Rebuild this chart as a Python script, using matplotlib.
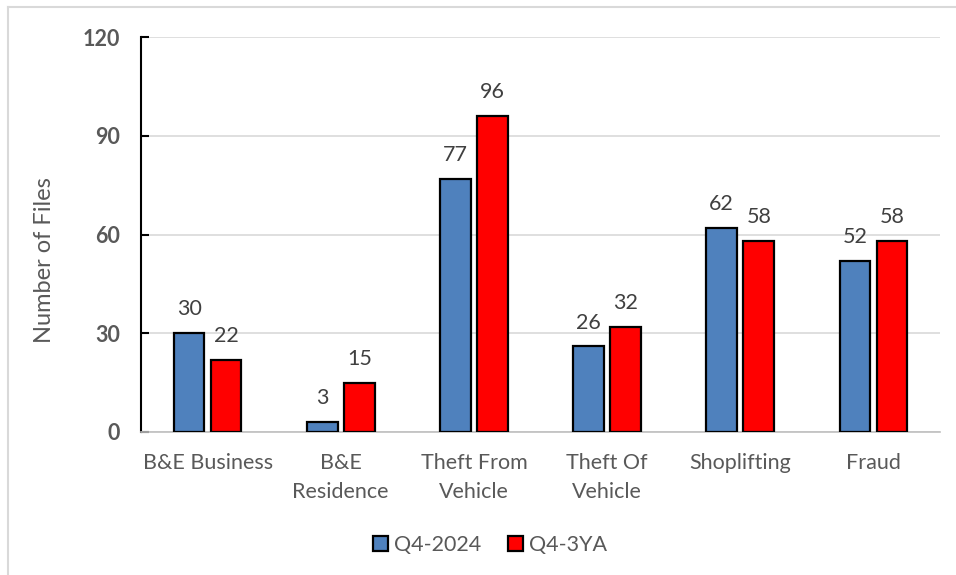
import numpy as np
import matplotlib.pyplot as plt
from matplotlib.lines import Line2D

categories = ["B&E Business", "B&E\nResidence", "Theft From\nVehicle",
              "Theft Of\nVehicle", "Shoplifting", "Fraud"]
q4_2024 = [30, 3, 77, 26, 62, 52]
q4_3ya = [22, 15, 96, 32, 58, 58]
yticks = [0, 30, 60, 90, 120]

plt.rcParams['font.family'] = ['Lato', 'DejaVu Sans']

blue = "#4F81BD"
red = "#FF0000"
text_col = "#595959"

fig = plt.figure(figsize=(9.56, 5.75), dpi=100)
ax = fig.add_axes([141 / 956, 1 - 432 / 575, (940 - 141) / 956, (432 - 37) / 575])

x = np.arange(len(categories))
w = 0.23
off = 0.139
b1 = ax.bar(x - off, q4_2024, w, color=blue, edgecolor="black", linewidth=1.6, label="Q4-2024", zorder=3)
b2 = ax.bar(x + off, q4_3ya, w, color=red, edgecolor="black", linewidth=1.6, label="Q4-3YA", zorder=3)

for bars, vals in ((b1, q4_2024), (b2, q4_3ya)):
    for rect, v in zip(bars, vals):
        ax.annotate(str(v), (rect.get_x() + rect.get_width() / 2, v),
                    xytext=(0, 10), textcoords="offset points",
                    ha="center", va="bottom", fontsize=15.5, color="#404040")

ax.set_xlim(-0.5, len(categories) - 0.5)
ax.set_ylim(0, 120)
ax.set_yticks(yticks)
ax.set_yticklabels([str(t) for t in yticks], fontsize=15.5, fontweight="bold", color=text_col)
ax.set_xticks(x)
ax.set_xticklabels(categories, fontsize=15.5, color=text_col, linespacing=1.55)
ax.tick_params(axis="x", length=0, pad=15)
ax.tick_params(axis="y", direction="in", length=6, width=1.5, color="black", pad=15)

ax.grid(axis="y", color="#D9D9D9", linewidth=1.2, zorder=0)
for s in ("top", "right"):
    ax.spines[s].set_visible(False)
ax.spines["bottom"].set_color("#BFBFBF")
ax.spines["bottom"].set_linewidth(1.2)
ax.spines["left"].set_color("black")
ax.spines["left"].set_linewidth(1.5)

fig.text(45 / 956, 1 - 260 / 575, "Number of Files", rotation=90, fontsize=17,
         color=text_col, ha="center", va="center")

fig.legend(handles=[b1, b2], labels=["Q4-2024", "Q4-3YA"], loc="center",
           bbox_to_anchor=(490 / 956, 1 - 545 / 575), ncol=2, frameon=False,
           fontsize=15.5, labelcolor=text_col, handlelength=0.7, handleheight=0.7,
           handletextpad=0.3, columnspacing=1.2)

# light outer frame on the left and top edges
fig.add_artist(Line2D([8 / 956, 8 / 956], [0, 1 - 7 / 575], color="#D9D9D9", linewidth=1.5))
fig.add_artist(Line2D([8 / 956, 1], [1 - 7 / 575, 1 - 7 / 575], color="#D9D9D9", linewidth=1.5))

fig.savefig("out.png", dpi=100)
